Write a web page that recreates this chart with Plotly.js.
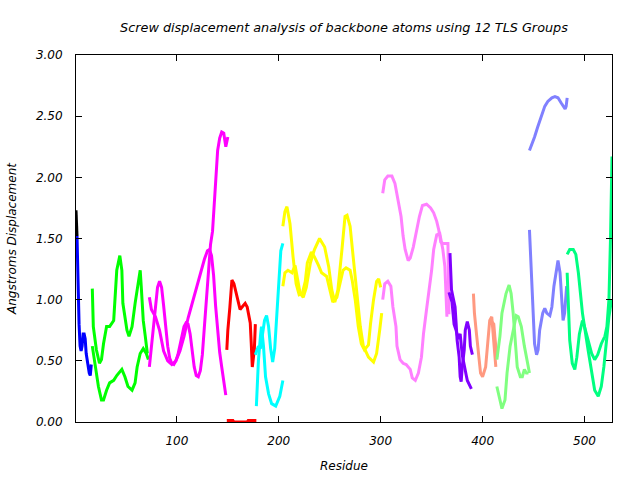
<!DOCTYPE html>
<html>
<head>
<meta charset="utf-8">
<script src="https://cdn.plot.ly/plotly-3.0.1.min.js"></script>
<style>html,body{margin:0;padding:0;background:#fff;}#chart{width:640px;height:480px;}</style>
</head>
<body>
<div id="chart"></div>
<script>
// Residue numbers and screw displacement values (Angstroms)
const resBlack = [1, 2];
const valBlack = [1.73, 1.52];

const resBlue = [2, 3, 4, 5, 6, 7, 8, 9, 10, 11, 12, 13, 14, 15, 16];
const valBlue = [1.52, 1.00, 0.80, 0.62, 0.58, 0.62, 0.72, 0.72, 0.68, 0.56, 0.50, 0.45, 0.40, 0.38, 0.47];

const resGreenA = [17, 18, 21, 24, 26, 28, 31, 34, 38, 39, 41, 44, 46, 47, 51, 53, 56, 59, 62, 64, 65, 67, 69, 71];
const valGreenA = [1.09, 0.78, 0.59, 0.48, 0.51, 0.64, 0.78, 0.78, 0.83, 0.97, 1.24, 1.36, 1.24, 0.97, 0.75, 0.70, 0.78, 0.97, 1.16, 1.24, 1.11, 0.83, 0.70, 0.56];
const resGreenB = [17, 20, 23, 26, 28, 31, 34, 38, 41, 46, 49, 52, 56, 59, 61, 64, 67, 70, 72];
const valGreenB = [0.62, 0.45, 0.29, 0.18, 0.18, 0.26, 0.32, 0.34, 0.38, 0.43, 0.37, 0.29, 0.26, 0.32, 0.45, 0.56, 0.60, 0.56, 0.51];

const resMagentaA = [73, 75, 77, 79, 81, 83, 85, 87, 89, 91, 93, 95, 97, 99, 101, 103, 105, 107, 109, 111, 113, 115, 117, 119, 121, 123, 125, 127, 129, 131, 133, 135, 136, 137, 138, 139, 140, 142, 144, 146, 147, 148, 150];
const valMagentaA = [0.45, 0.62, 0.82, 0.98, 1.10, 1.15, 1.10, 0.95, 0.78, 0.62, 0.52, 0.48, 0.47, 0.50, 0.55, 0.62, 0.70, 0.78, 0.81, 0.80, 0.72, 0.58, 0.45, 0.38, 0.37, 0.42, 0.55, 0.78, 1.02, 1.28, 1.45, 1.56, 1.68, 1.82, 2.00, 2.12, 2.22, 2.32, 2.37, 2.36, 2.28, 2.25, 2.33];
const resMagentaB = [73, 75, 79, 83, 87, 91, 95, 99, 103, 107, 111, 115, 119, 123, 127, 130, 132, 134, 136, 138, 140, 142, 144, 146, 148];
const valMagentaB = [1.02, 0.92, 0.86, 0.75, 0.58, 0.50, 0.47, 0.50, 0.58, 0.70, 0.85, 0.97, 1.10, 1.22, 1.33, 1.40, 1.41, 1.36, 1.20, 0.95, 0.72, 0.57, 0.45, 0.33, 0.22];

const resRedA = [149, 150, 152, 154, 156, 159, 162, 164, 167, 169, 172, 173, 174, 176, 177];
const valRedA = [0.59, 0.75, 0.94, 1.16, 1.13, 1.02, 0.92, 0.94, 0.97, 0.94, 0.81, 0.64, 0.45, 0.59, 0.80];
const resRedB = [149, 155, 156, 169, 170, 178];
const valRedB = [0.012, 0.012, 0.0, 0.0, 0.012, 0.012];

const resCyanA = [178, 179, 180, 182, 183, 185, 187, 190, 193, 197, 201, 204];
const valCyanA = [0.13, 0.32, 0.50, 0.70, 0.78, 0.62, 0.37, 0.23, 0.15, 0.13, 0.21, 0.34];
const resCyanB = [177, 180, 182, 184, 186, 188, 190, 192, 194, 196, 198, 200, 202, 204];
const valCyanB = [0.55, 0.62, 0.60, 0.72, 0.83, 0.87, 0.78, 0.60, 0.49, 0.60, 0.85, 1.13, 1.40, 1.46];

const resYellowA = [204, 206, 208, 211, 214, 217, 220, 223, 226, 228, 232, 235, 239, 242, 247, 250, 253, 257, 260, 263, 266, 270, 272, 275, 278, 281, 284, 288, 290, 293, 296, 298, 300];
const valYellowA = [1.60, 1.72, 1.76, 1.62, 1.35, 1.13, 1.04, 1.05, 1.15, 1.30, 1.39, 1.35, 1.28, 1.22, 1.19, 1.08, 0.98, 1.02, 1.13, 1.24, 1.26, 1.24, 1.16, 1.00, 0.78, 0.64, 0.59, 0.63, 0.80, 1.00, 1.15, 1.17, 1.10];
const resYellowB = [204, 206, 209, 213, 216, 218, 221, 224, 227, 231, 235, 240, 245, 249, 252, 255, 258, 262, 265, 267, 270, 273, 276, 280, 283, 288, 293, 296, 299, 301];
const valYellowB = [1.11, 1.22, 1.24, 1.22, 1.28, 1.19, 1.05, 1.02, 1.10, 1.30, 1.41, 1.50, 1.43, 1.27, 1.08, 0.98, 1.08, 1.41, 1.68, 1.69, 1.60, 1.35, 1.08, 0.78, 0.62, 0.53, 0.49, 0.56, 0.75, 0.89];

const resPinkA = [302, 304, 307, 311, 314, 317, 320, 322, 324, 327, 329, 332, 335, 338, 341, 345, 349, 352, 355, 357, 359, 361, 364, 366, 367];
const valPinkA = [1.87, 1.98, 2.01, 2.01, 1.95, 1.81, 1.68, 1.52, 1.41, 1.32, 1.34, 1.43, 1.57, 1.68, 1.77, 1.78, 1.75, 1.71, 1.64, 1.57, 1.47, 1.46, 1.46, 1.46, 0.88];
const resPinkB = [302, 304, 307, 310, 312, 315, 316, 319, 322, 325, 329, 331, 334, 337, 340, 342, 345, 348, 350, 352, 355, 358, 361, 363, 364, 365];
const valPinkB = [1.00, 1.13, 1.15, 1.11, 0.94, 0.78, 0.62, 0.51, 0.48, 0.47, 0.43, 0.36, 0.34, 0.40, 0.53, 0.72, 0.92, 1.11, 1.24, 1.41, 1.53, 1.54, 1.41, 1.27, 1.08, 0.86];

const resPurpleA = [368, 368.5, 369.5, 371, 373, 374, 375, 377, 378, 379, 380, 382, 383, 385, 387, 388, 390];
const valPurpleA = [1.38, 1.19, 1.08, 1.02, 0.94, 0.81, 0.67, 0.53, 0.37, 0.33, 0.45, 0.59, 0.75, 0.82, 0.75, 0.62, 0.55];
const resPurpleB = [367, 370, 372, 374, 376, 378, 380, 382, 384, 385, 387, 389];
const valPurpleB = [1.06, 0.98, 0.80, 0.75, 0.68, 0.72, 0.55, 0.45, 0.38, 0.34, 0.30, 0.27];

const resSalmonA = [391, 392, 394, 396, 398, 400, 403, 405, 407, 409, 410, 412, 413];
const valSalmonA = [1.05, 0.89, 0.72, 0.56, 0.40, 0.37, 0.45, 0.64, 0.83, 0.86, 0.75, 0.56, 0.45];
const resSalmonB = [409, 411, 412, 414];
const valSalmonB = [0.82, 0.80, 0.70, 0.53];

const resLightGreenA = [414, 417, 419, 423, 426, 428, 430, 432, 434, 437, 439, 441, 443, 445];
const valLightGreenA = [0.51, 0.70, 0.89, 1.05, 1.12, 1.05, 0.89, 0.64, 0.45, 0.37, 0.37, 0.43, 0.40, 0.40];
const resLightGreenB = [414, 417, 419, 422, 424, 427, 431, 433, 435, 438, 441, 444, 446];
const valLightGreenB = [0.29, 0.18, 0.11, 0.18, 0.40, 0.62, 0.78, 0.87, 0.86, 0.78, 0.62, 0.48, 0.40];

const resPeriwinkleA = [446, 448, 451, 454, 458, 461, 464, 468, 471, 474, 477, 481, 482, 483];
const valPeriwinkleA = [2.22, 2.26, 2.33, 2.41, 2.50, 2.58, 2.62, 2.65, 2.66, 2.65, 2.61, 2.56, 2.58, 2.65];
const resPeriwinkleB = [446, 447, 448, 449.5, 451, 453, 454.5, 456, 459, 461, 463, 466, 468, 470, 472.5, 474, 476, 477.5, 479, 480.5, 481.5, 482.5];
const valPeriwinkleB = [1.57, 1.38, 1.16, 0.89, 0.64, 0.55, 0.59, 0.75, 0.89, 0.93, 0.89, 0.87, 0.94, 1.11, 1.27, 1.32, 1.22, 1.00, 0.83, 0.89, 1.05, 1.11];

const resSpringA = [483, 485.5, 489, 491.5, 494, 496, 498, 500, 503.5, 507, 510, 513, 516.5, 520, 522, 524, 525.5, 526.5, 527];
const valSpringA = [1.37, 1.41, 1.41, 1.37, 1.22, 1.02, 0.89, 0.78, 0.67, 0.56, 0.51, 0.55, 0.64, 0.70, 0.78, 1.00, 1.49, 2.03, 2.17];
const resSpringB = [483, 484, 485.5, 488, 490.5, 492.5, 495, 498, 500, 503.5, 507, 510, 513.5, 516.5, 519, 521.5, 524, 526.5];
const valSpringB = [1.22, 0.94, 0.67, 0.48, 0.43, 0.53, 0.72, 0.83, 0.78, 0.59, 0.40, 0.26, 0.21, 0.29, 0.45, 0.67, 0.86, 1.00];

const xTickVals = [100, 200, 300, 400, 500];
const yTickVals = [0, 0.5, 1.0, 1.5, 2.0, 2.5, 3.0];

const series = [
  [resBlack, valBlack, '#000000'],
  [resBlue, valBlue, '#0000ff'],
  [resGreenA, valGreenA, '#00ff00'],
  [resGreenB, valGreenB, '#00ff00'],
  [resMagentaA, valMagentaA, '#ff00ff'],
  [resMagentaB, valMagentaB, '#ff00ff'],
  [resRedA, valRedA, '#ff0000'],
  [resRedB, valRedB, '#ff0000'],
  [resCyanA, valCyanA, '#00ffff'],
  [resCyanB, valCyanB, '#00ffff'],
  [resYellowA, valYellowA, '#ffff00'],
  [resYellowB, valYellowB, '#ffff00'],
  [resPinkA, valPinkA, '#ff80ff'],
  [resPinkB, valPinkB, '#ff80ff'],
  [resPurpleA, valPurpleA, '#8000ff'],
  [resPurpleB, valPurpleB, '#8000ff'],
  [resSalmonA, valSalmonA, '#ff9980'],
  [resSalmonB, valSalmonB, '#ff9980'],
  [resLightGreenA, valLightGreenA, '#80ff80'],
  [resLightGreenB, valLightGreenB, '#80ff80'],
  [resPeriwinkleA, valPeriwinkleA, '#8080ff'],
  [resPeriwinkleB, valPeriwinkleB, '#8080ff'],
  [resSpringA, valSpringA, '#00ff80'],
  [resSpringB, valSpringB, '#00ff80']
];

const traces = series.map(s => ({
  x: s[0], y: s[1], type: 'scatter', mode: 'lines',
  line: {color: s[2], width: 3, shape: 'linear'},
  hoverinfo: 'skip'
}));

const baseFont = {family: 'DejaVu Sans, Verdana, sans-serif', size: 12, color: '#000', style: 'italic'};
const titleFont = {family: 'DejaVu Sans, Verdana, sans-serif', size: 12.8, color: '#000', style: 'italic'};

const layout = {
  width: 640, height: 480,
  margin: {l: 76, r: 28, t: 55, b: 58, pad: 0},
  paper_bgcolor: '#fff', plot_bgcolor: '#fff',
  showlegend: false,
  font: baseFont,
  title: {
    text: 'Screw displacement analysis of backbone atoms using 12 TLS Groups',
    font: titleFont, x: 0.5375, xanchor: 'center', y: 0.942, yanchor: 'middle'
  },
  xaxis: {
    range: [1, 527], tickvals: xTickVals, ticktext: xTickVals.map(String),
    ticks: 'inside', ticklen: 6, tickcolor: '#000', tickwidth: 1,
    showline: true, linecolor: '#000', linewidth: 1, mirror: 'ticks',
    showgrid: false, zeroline: false,
    tickfont: baseFont, ticklabelstandoff: 8,
    title: {text: 'Residue', font: baseFont, standoff: 14}
  },
  yaxis: {
    range: [0, 3], tickvals: yTickVals, tickformat: '.2f',
    ticks: 'inside', ticklen: 6, tickcolor: '#000', tickwidth: 1,
    showline: true, linecolor: '#000', linewidth: 1, mirror: 'ticks',
    showgrid: false, zeroline: false,
    tickfont: baseFont, ticklabelstandoff: 10,
    title: {text: 'Angstroms Displacement', font: baseFont, standoff: 16}
  }
};

Plotly.newPlot('chart', traces, layout, {displayModeBar: false, staticPlot: true});
</script>
</body>
</html>
